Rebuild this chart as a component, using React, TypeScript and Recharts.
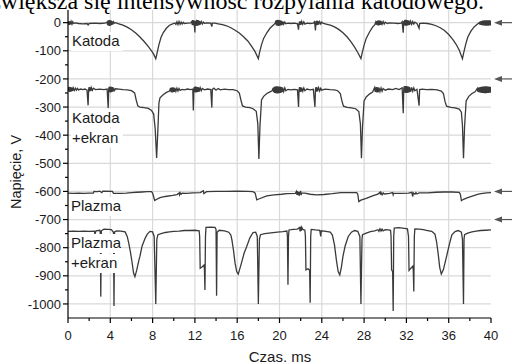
import React from "react"
import { LineChart, Line, XAxis, YAxis, CartesianGrid, ReferenceDot } from "recharts"

// [czas ms, napięcie V]
const katoda: [number, number][] = [
  [0, 4], [0.05, -7], [0.1, 6], [0.15, -8], [0.2, 5], [0.25, -6], [0.3, 4], [0.38, -5], [0.45, 3], [0.55, -3],
  [0.7, -1], [1.0, -3], [1.4, -4], [1.8, -3], [1.9, -8], [2.0, -3], [2.5, -2], [3.0, -3], [3.5, -2],
  [3.7, 2], [3.75, -9], [3.8, 8], [3.85, -11], [3.9, 9], [3.95, -12], [4.0, 8], [4.05, -10], [4.1, 7], [4.15, -8],
  [4.2, 5], [4.25, -6], [4.3, 3], [4.4, -2], [4.5, 0],
  [4.8, -4], [5.2, -9], [5.6, -16], [6.0, -25], [6.4, -37], [6.8, -51], [7.2, -67], [7.6, -85], [7.9, -100],
  [8.1, -112], [8.3, -128], [8.4, -112], [8.6, -78], [8.8, -52], [9.0, -36], [9.3, -20], [9.6, -9], [9.9, -4],
  [10.1, -1], [10.2, -6], [10.3, 3], [10.4, -7], [10.5, 4], [10.6, -6], [10.7, 2], [10.8, -5], [10.9, 1], [11.0, -3],
  [11.3, -2], [11.6, -1],
  [11.7, 4], [11.75, -8], [11.8, 9], [11.85, -10], [11.9, 8], [11.95, -9], [12.0, -35], [12.03, 6], [12.1, -11],
  [12.15, 10], [12.2, -12], [12.25, 9], [12.3, -10], [12.35, 8], [12.4, -9], [12.45, 6], [12.5, -7], [12.6, 4],
  [12.7, -5], [12.8, 2], [12.9, -2], [13.2, -1], [13.5, -2], [13.6, -14], [13.65, -2], [13.9, -2],
  [14.2, -4], [14.6, -7], [15.0, -11], [15.4, -18], [15.8, -27], [16.2, -37], [16.6, -50], [17.0, -65], [17.4, -86],
  [17.7, -104], [18.0, -128], [18.1, -108], [18.3, -78], [18.5, -56], [18.8, -36], [19.1, -20], [19.4, -9],
  [19.6, -2], [19.65, 7], [19.7, -10], [19.75, 9], [19.8, -11], [19.85, 10], [19.9, -12], [19.95, 9], [20.0, -11],
  [20.05, 8], [20.1, -10], [20.15, 7], [20.2, -9], [20.25, 5], [20.3, -7], [20.35, 4], [20.4, -5], [20.5, 2],
  [20.6, -4], [20.8, -2], [21.1, -3], [21.4, -2], [21.7, -4], [21.8, -25], [21.85, -3], [21.9, 4], [21.95, -8],
  [22.0, 5], [22.05, -7], [22.1, 4], [22.2, -6], [22.3, 3], [22.4, -5], [22.6, -2], [22.9, -3], [23.2, -2],
  [23.3, 3], [23.35, -8], [23.4, -28], [23.45, 6], [23.5, -9], [23.55, 7], [23.6, -8], [23.65, 6], [23.7, -7],
  [23.8, 4], [23.9, -5], [24.0, 2], [24.1, -2],
  [24.4, -5], [24.8, -9], [25.2, -15], [25.6, -24], [26.0, -36], [26.4, -51], [26.8, -70], [27.1, -87], [27.4, -106],
  [27.7, -128], [27.8, -110], [28.0, -80], [28.2, -56], [28.5, -34], [28.8, -16], [29.0, -8],
  [29.1, 2], [29.15, -7], [29.2, 6], [29.25, -9], [29.3, 7], [29.35, -10], [29.4, 8], [29.45, -9], [29.5, 7],
  [29.55, -8], [29.6, 6], [29.7, -6], [29.8, 4], [29.9, -5], [30.0, 2], [30.2, -3], [30.4, -1], [30.8, -2],
  [31.2, -3], [31.5, -2],
  [31.6, 3], [31.7, -36], [31.75, 6], [31.8, -9], [31.85, 10], [31.9, -11], [31.95, 10], [32.0, -11], [32.05, 9],
  [32.1, -10], [32.15, 8], [32.2, -9], [32.25, 7], [32.3, -8], [32.4, 5], [32.5, -6], [32.6, 4], [32.7, -5],
  [32.8, 2], [33.0, -3], [33.2, -20], [33.25, -3], [33.5, -2],
  [34.0, -3], [34.4, -6], [34.8, -11], [35.2, -18], [35.6, -28], [36.0, -42], [36.4, -60], [36.7, -77], [37.0, -98],
  [37.3, -128], [37.4, -110], [37.6, -78], [37.8, -52], [38.1, -30], [38.4, -15], [38.7, -6],
  [38.9, 0], [38.95, -7], [39.0, 5], [39.05, -8], [39.1, 6], [39.15, -9], [39.2, 7], [39.25, -10], [39.3, 7],
  [39.35, -10], [39.4, 8], [39.45, -11], [39.5, 8], [39.55, -11], [39.6, 8], [39.65, -11], [39.7, 8],
  [39.75, -11], [39.8, 8], [39.85, -10], [39.9, 8], [39.95, -10], [40, 7],
]

const katodaEkran: [number, number][] = [
  [0, -230], [0.05, -244], [0.1, -228], [0.15, -246], [0.2, -229], [0.25, -245], [0.3, -230], [0.35, -244],
  [0.4, -231], [0.45, -243], [0.5, -232], [0.6, -241], [0.7, -233], [0.8, -240], [0.9, -234], [1.0, -239],
  [1.2, -236], [1.4, -238], [1.6, -236], [1.8, -240], [1.9, -294], [1.95, -238], [2.0, -229], [2.05, -244],
  [2.1, -230], [2.15, -243], [2.2, -231], [2.3, -241], [2.4, -233], [2.6, -238], [3.0, -236], [3.4, -238],
  [3.7, -236], [3.8, -304], [3.85, -236], [3.9, -228], [3.95, -247], [4.0, -227], [4.05, -248], [4.1, -228],
  [4.15, -246], [4.2, -229], [4.25, -245], [4.3, -231], [4.4, -241], [4.5, -235], [4.8, -236], [5.2, -238],
  [5.6, -239], [6.0, -242], [6.3, -250], [6.45, -275], [6.6, -296], [6.8, -300], [7.2, -302], [7.6, -305],
  [7.9, -312], [8.1, -325], [8.25, -380], [8.38, -481], [8.5, -380], [8.6, -285], [8.7, -267], [9.0, -256],
  [9.3, -248], [9.6, -243],
  [9.7, -232], [9.75, -247], [9.8, -231], [9.85, -248], [9.9, -230], [9.95, -247], [10.0, -231], [10.05, -246],
  [10.1, -232], [10.2, -244], [10.3, -233], [10.4, -243], [10.5, -234], [10.6, -241], [10.8, -237], [11.0, -239],
  [11.3, -236], [11.6, -238], [11.8, -236], [11.85, -312], [11.9, -236], [11.95, -228], [12.0, -247], [12.05, -227],
  [12.1, -248], [12.15, -228], [12.2, -247], [12.25, -229], [12.3, -246], [12.35, -230], [12.4, -245], [12.5, -231],
  [12.6, -242], [12.7, -234], [12.9, -239], [13.2, -236], [13.5, -238], [13.6, -302], [13.65, -237], [13.8, -233],
  [14.0, -240], [14.2, -234], [14.4, -239], [14.8, -236], [15.2, -238], [15.6, -238], [16.0, -242], [16.2, -250],
  [16.35, -275], [16.5, -296], [16.8, -300], [17.2, -302], [17.5, -306], [17.8, -315], [17.95, -360], [18.05, -485],
  [18.15, -370], [18.3, -275], [18.5, -262], [18.8, -252], [19.1, -246], [19.3, -242],
  [19.4, -232], [19.45, -247], [19.5, -228], [19.55, -250], [19.6, -227], [19.65, -251], [19.7, -226], [19.75, -252],
  [19.8, -226], [19.85, -252], [19.9, -227], [19.95, -251], [20.0, -227], [20.05, -250], [20.1, -228], [20.15, -249],
  [20.2, -229], [20.25, -247], [20.3, -231], [20.4, -245], [20.5, -232], [20.6, -242], [20.8, -237], [21.1, -239],
  [21.4, -237], [21.7, -239], [21.8, -300], [21.85, -238], [21.9, -229], [21.95, -246], [22.0, -230], [22.05, -245],
  [22.1, -231], [22.2, -244], [22.3, -232], [22.4, -242], [22.6, -236], [22.9, -239], [23.2, -237], [23.35, -300],
  [23.4, -238], [23.45, -229], [23.5, -245], [23.55, -230], [23.6, -244], [23.7, -231], [23.8, -243], [23.9, -233],
  [24.0, -240], [24.3, -236], [24.8, -238], [25.2, -239], [25.5, -242], [25.75, -252], [25.9, -278], [26.05, -297],
  [26.4, -301], [26.8, -303], [27.2, -306], [27.5, -316], [27.65, -360], [27.75, -482], [27.85, -370], [28.0, -278],
  [28.2, -264], [28.5, -254], [28.8, -247],
  [29.0, -231], [29.05, -246], [29.1, -230], [29.15, -247], [29.2, -229], [29.25, -248], [29.3, -230], [29.35, -247],
  [29.4, -231], [29.5, -245], [29.6, -232], [29.7, -244], [29.8, -234], [30.0, -240], [30.3, -236], [30.7, -238],
  [31.0, -234], [31.3, -238], [31.6, -232], [31.7, -322], [31.75, -236], [31.8, -226], [31.85, -249], [31.9, -225],
  [31.95, -250], [32.0, -225], [32.05, -250], [32.1, -226], [32.15, -249], [32.2, -227], [32.25, -248], [32.3, -229],
  [32.4, -246], [32.5, -230], [32.6, -244], [32.7, -232], [32.8, -242], [33.0, -237], [33.2, -295], [33.25, -238],
  [33.5, -236], [33.9, -238], [34.4, -237], [34.9, -239], [35.3, -243], [35.5, -252], [35.65, -280], [35.8, -297],
  [36.2, -301], [36.6, -303], [37.0, -307], [37.2, -318], [37.3, -365], [37.4, -482], [37.5, -370], [37.65, -278],
  [37.9, -262], [38.2, -252], [38.5, -246],
  [38.7, -234], [38.75, -245], [38.8, -231], [38.85, -247], [38.9, -230], [38.95, -248], [39.0, -229], [39.05, -249],
  [39.1, -228], [39.15, -250], [39.2, -227], [39.25, -250], [39.3, -227], [39.35, -251], [39.4, -226], [39.45, -251],
  [39.5, -226], [39.55, -251], [39.6, -226], [39.65, -250], [39.7, -227], [39.75, -250], [39.8, -227], [39.85, -249],
  [39.9, -228], [39.95, -249], [40, -229],
]

const plazma: [number, number][] = [
  [0, -606], [0.5, -607], [1.0, -606], [1.5, -607], [2.0, -606], [2.4, -606], [2.45, -600], [2.8, -601], [3.0, -599],
  [3.2, -604], [3.3, -599], [4.2, -600], [4.3, -607], [5.0, -607], [5.5, -606], [6.0, -604], [6.5, -603], [7.0, -602],
  [7.5, -601], [7.9, -601], [8.0, -606], [8.2, -632], [8.4, -628], [8.7, -622], [9.2, -618], [9.9, -614], [10.3, -611],
  [10.5, -606], [10.55, -612], [10.6, -604], [10.7, -610], [10.8, -606], [11.2, -607], [11.8, -605], [12.5, -604],
  [12.8, -598], [12.85, -608], [13.1, -601], [14.0, -600], [15.0, -600], [16.0, -599], [17.0, -600], [17.5, -601],
  [17.7, -606], [17.85, -630], [18.1, -626], [18.8, -616], [19.5, -612], [20.2, -610], [20.7, -608], [21.5, -607],
  [21.6, -600], [21.65, -612], [21.7, -599], [21.8, -614], [21.85, -602], [21.9, -610], [22.0, -598], [22.05, -613],
  [22.1, -605], [22.4, -606], [22.9, -610], [23.5, -612], [24.2, -611], [25.0, -608], [25.8, -604], [26.5, -604],
  [27.3, -604], [27.4, -610], [27.5, -636], [27.7, -631], [28.2, -625], [28.8, -616], [29.3, -610], [29.5, -603],
  [29.55, -611], [29.6, -604], [29.7, -612], [29.8, -605], [29.9, -609], [30.4, -607], [30.7, -604], [30.75, -612],
  [30.8, -606], [31.5, -607], [32.2, -606], [32.5, -603], [32.6, -618], [32.65, -605], [32.8, -610], [32.9, -604],
  [33.0, -609], [33.2, -605], [34.0, -605], [34.8, -603], [35.5, -602], [36.3, -602], [37.0, -603], [37.1, -610],
  [37.2, -633], [37.4, -628], [37.8, -622], [38.3, -616], [38.8, -610], [39.2, -607], [39.6, -605], [40, -604],
]

const plazmaEkran: [number, number][] = [
  [0, -742], [0.5, -741], [1.0, -742], [1.5, -741], [2.0, -742], [2.5, -741], [2.55, -752], [2.65, -740], [3.0, -738],
  [3.05, -745], [3.1, -974], [3.15, -740], [3.4, -734], [3.8, -735], [4.1, -736], [4.3, -745], [4.35, -1007],
  [4.4, -744], [4.6, -740], [5.0, -741], [5.4, -744], [5.6, -760], [5.75, -785], [5.9, -815], [6.05, -850],
  [6.2, -890], [6.33, -903], [6.5, -880], [6.7, -845], [6.8, -831], [7.0, -795], [7.3, -766], [7.5, -752],
  [7.75, -742], [8.0, -744], [8.15, -760], [8.3, -1000], [8.4, -770], [8.5, -754], [8.8, -750], [9.2, -746],
  [9.6, -744], [10.0, -742], [10.5, -741], [11.0, -739], [11.5, -739], [12.0, -738], [12.4, -740], [12.45, -760],
  [12.5, -873], [12.7, -868], [12.85, -862], [12.9, -875], [12.95, -950], [13.0, -760], [13.05, -728], [13.5, -727],
  [13.9, -728], [14.0, -735], [14.05, -971], [14.1, -745], [14.3, -738], [14.8, -740], [15.2, -745], [15.4, -755],
  [15.5, -772], [15.65, -810], [15.8, -855], [15.95, -885], [16.1, -894], [16.4, -855], [16.65, -820], [16.9, -796],
  [17.2, -765], [17.5, -746], [17.75, -745], [17.9, -760], [18.0, -1000], [18.1, -770], [18.2, -754], [18.6, -750],
  [19.2, -747], [19.8, -745], [20.3, -743], [20.7, -741], [20.75, -760], [20.8, -932], [20.85, -760], [20.9, -737],
  [21.3, -735], [21.7, -734], [21.9, -728], [21.95, -742], [22.0, -726], [22.05, -740], [22.1, -727], [22.2, -735],
  [22.4, -738], [22.45, -760], [22.5, -879], [22.7, -875], [22.85, -880], [22.9, -996], [22.95, -760], [23.0, -735],
  [23.4, -737], [23.8, -738], [23.9, -760], [23.95, -740], [24.4, -742], [24.8, -745], [25.0, -755], [25.2, -790],
  [25.4, -850], [25.55, -885], [25.7, -897], [25.85, -870], [26.0, -831], [26.2, -795], [26.5, -760], [26.8, -745],
  [27.1, -739], [27.4, -742], [27.6, -760], [27.7, -1000], [27.8, -770], [27.85, -754], [28.2, -748], [28.6, -743],
  [29.0, -740], [29.3, -736], [29.4, -742], [29.5, -733], [29.6, -741], [29.7, -734], [29.8, -740], [30.0, -736],
  [30.3, -737], [30.5, -738], [30.55, -760], [30.6, -879], [30.7, -885], [30.75, -1025], [30.8, -760], [30.85, -730],
  [31.3, -729], [31.8, -731], [32.1, -733], [32.2, -760], [32.25, -881], [32.45, -872], [32.6, -866], [32.65, -880],
  [32.7, -956], [32.75, -760], [32.8, -733], [33.2, -734], [33.6, -736], [34.0, -739], [34.4, -742], [34.7, -752],
  [34.85, -778], [35.0, -820], [35.15, -870], [35.3, -894], [35.5, -878], [35.8, -831], [36.05, -790], [36.3, -754],
  [36.6, -743], [36.9, -739], [37.2, -745], [37.3, -770], [37.4, -1000], [37.45, -770], [37.5, -754], [37.8, -748],
  [38.2, -744], [38.6, -741], [39.0, -739], [39.5, -738], [40, -737],
]

const xTicks = [0, 2, 4, 6, 8, 10, 12, 14, 16, 18, 20, 22, 24, 26, 28, 30, 32, 34, 36, 38, 40]
const xGrid = [4, 8, 12, 16, 20, 24, 28, 32, 36]
const yTicks = [0, -50, -100, -150, -200, -250, -300, -350, -400, -450, -500, -550, -600, -650, -700, -750, -800,
  -850, -900, -950, -1000]
const yGrid = [0, -100, -200, -300, -400, -500, -600, -700, -800, -900, -1000]
const arrowLevels = [0, -200, -600, -700]

const title = "zwiększa się intensywność rozpylania katodowego."
const xTitle = "Czas, ms"
const yTitle = "Napięcie, V"

const sans = "'Liberation Sans', Arial, sans-serif"
const serif = "'Liberation Serif', 'Times New Roman', serif"
const lineColor = "#3a3a3a"

const toRows = (pts: [number, number][]) => pts.map(([t, v]) => ({ t, v }))

const YTick = (props: any) => {
  const { x, y, payload } = props
  const major = payload.value % 100 === 0
  return (
    <g>
      <line x1={x - (major ? 5 : 3)} x2={x} y1={y} y2={y} stroke="#000" strokeWidth={1.2} />
      {major && (
        <text x={x - 7} y={y} dy={4.6} textAnchor="end" fontSize={13} fontFamily={sans} fill="#1a1a1a">
          {payload.value}
        </text>
      )}
    </g>
  )
}

const XTick = (props: any) => {
  const { x, y, payload } = props
  const major = payload.value % 4 === 0
  return (
    <g>
      <line x1={x} x2={x} y1={y} y2={y + (major ? 5 : 3)} stroke="#000" strokeWidth={1.2} />
      {major && (
        <text x={x} y={y} dy={22} textAnchor="middle" fontSize={13} fontFamily={sans} fill="#1a1a1a">
          {payload.value}
        </text>
      )}
    </g>
  )
}

const Arrow = (props: any) => {
  const { cx, cy } = props
  return (
    <g>
      <line x1={cx + 9} x2={cx + 23} y1={cy} y2={cy} stroke="#555" strokeWidth={1.2} />
      <path d={`M${cx + 3},${cy} L${cx + 11},${cy - 3} L${cx + 11},${cy + 3} Z`} fill="#555" />
    </g>
  )
}

const Label = ({ x, y, lines }: { x: number; y: number; lines: string[] }) => (
  <g>
    {lines.map((s, i) => (
      <g key={s}>
        <rect x={x - 1} y={y + i * 20 - 14} width={s.length * 8.3 + 2} height={19} fill="#fff" />
        <text x={x} y={y + i * 20} fontSize={15} fontFamily={sans} fill="#1a1a1a">
          {s}
        </text>
      </g>
    ))}
  </g>
)

export default function App() {
  const series = [katoda, katodaEkran, plazma, plazmaEkran]
  return (
    <div style={{ position: "absolute", left: 0, top: 0, width: 512, height: 362, overflow: "hidden", background: "#fff" }}>
      <LineChart width={512} height={362} margin={{ top: 10, right: 21, bottom: 0, left: 0 }}>
        <CartesianGrid stroke="#d9d9d9" strokeWidth={1.2} horizontalValues={yGrid} verticalValues={xGrid} />
        <XAxis
          dataKey="t"
          type="number"
          domain={[0, 40]}
          ticks={xTicks}
          interval={0}
          height={44}
          tickSize={0}
          tickMargin={0}
          tickLine={false}
          tick={<XTick />}
          axisLine={{ stroke: "#000", strokeWidth: 1.2 }}
          allowDataOverflow
        />
        <XAxis xAxisId="top" orientation="top" type="number" domain={[0, 40]} height={0} tick={false} tickLine={false}
          axisLine={{ stroke: "#000", strokeWidth: 1.2 }} />
        <YAxis
          type="number"
          domain={[-1050, 45]}
          ticks={yTicks}
          interval={0}
          width={68}
          tickSize={0}
          tickMargin={0}
          tickLine={false}
          tick={<YTick />}
          axisLine={{ stroke: "#000", strokeWidth: 1.2 }}
          allowDataOverflow
        />
        <YAxis yAxisId="right" orientation="right" type="number" domain={[-1050, 45]} width={0} tick={false}
          tickLine={false} axisLine={{ stroke: "#000", strokeWidth: 1.2 }} />
        {series.map((s, i) => (
          <Line
            key={i}
            data={toRows(s)}
            dataKey="v"
            type="linear"
            stroke={lineColor}
            strokeWidth={1.3}
            dot={false}
            isAnimationActive={false}
          />
        ))}
        {arrowLevels.map((v) => (
          <ReferenceDot key={v} x={40} y={v} r={0} ifOverflow="visible" shape={<Arrow />} />
        ))}
      </LineChart>
      <svg width={512} height={362} style={{ position: "absolute", left: 0, top: 0, pointerEvents: "none" }}>
        <text x={484} y={9} textAnchor="end" fontSize={24} fontFamily={serif} fill="#000">
          {title}
        </text>
        <Label x={72} y={46} lines={["Katoda"]} />
        <Label x={72} y={122.5} lines={["Katoda", "+ekran"]} />
        <Label x={71} y={211} lines={["Plazma"]} />
        <Label x={71} y={248} lines={["Plazma", "+ekran"]} />
        <text x={280} y={362} textAnchor="middle" fontSize={15} fontFamily={sans} fill="#1a1a1a">
          {xTitle}
        </text>
        <text x={0} y={0} transform="translate(21,172) rotate(-90)" textAnchor="middle" fontSize={14.5} fontFamily={sans}
          fill="#1a1a1a">
          {yTitle}
        </text>
      </svg>
    </div>
  )
}
